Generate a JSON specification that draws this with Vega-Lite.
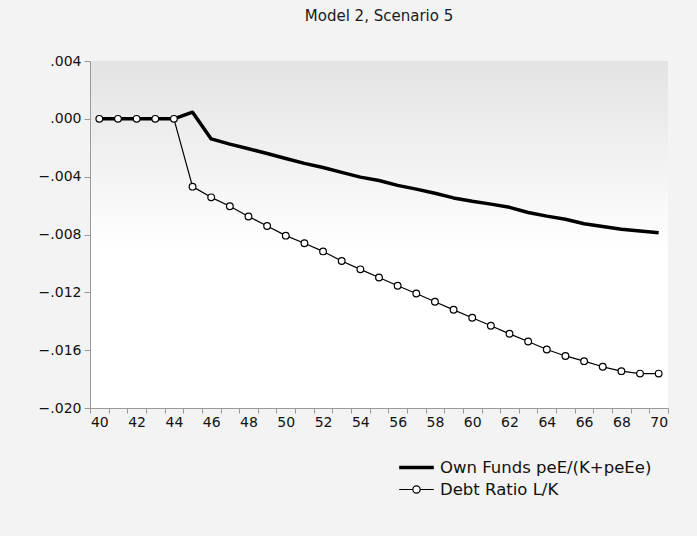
{
  "$schema": "https://vega.github.io/schema/vega-lite/v6.json",
  "width": 578,
  "height": 347,
  "autosize": {"type": "none"},
  "padding": {"left": 90, "top": 61, "right": 29, "bottom": 128},
  "background": "#f3f3f3",
  "title": {"text": "Model 2, Scenario 5", "font": "DejaVu Sans", "fontSize": 15, "fontWeight": "normal", "color": "#1a1a1a", "offset": 30},
  "config": {
    "font": "DejaVu Sans",
    "view": {"stroke": null, "fill": {"gradient": "linear", "x1": 0, "y1": 0, "x2": 0, "y2": 1, "stops": [{"offset": 0, "color": "#e3e3e3"}, {"offset": 0.55, "color": "#ffffff"}, {"offset": 1, "color": "#ffffff"}]}}
  },
  "data": {"values": [
    {"t": 40, "s": "Own Funds peE/(K+peEe)", "v": 0},
    {"t": 41, "s": "Own Funds peE/(K+peEe)", "v": 0},
    {"t": 42, "s": "Own Funds peE/(K+peEe)", "v": 0},
    {"t": 43, "s": "Own Funds peE/(K+peEe)", "v": 0},
    {"t": 44, "s": "Own Funds peE/(K+peEe)", "v": 0},
    {"t": 45, "s": "Own Funds peE/(K+peEe)", "v": 0.00046},
    {"t": 46, "s": "Own Funds peE/(K+peEe)", "v": -0.00139},
    {"t": 47, "s": "Own Funds peE/(K+peEe)", "v": -0.00175},
    {"t": 48, "s": "Own Funds peE/(K+peEe)", "v": -0.00207},
    {"t": 49, "s": "Own Funds peE/(K+peEe)", "v": -0.0024},
    {"t": 50, "s": "Own Funds peE/(K+peEe)", "v": -0.00274},
    {"t": 51, "s": "Own Funds peE/(K+peEe)", "v": -0.00308},
    {"t": 52, "s": "Own Funds peE/(K+peEe)", "v": -0.00337},
    {"t": 53, "s": "Own Funds peE/(K+peEe)", "v": -0.0037},
    {"t": 54, "s": "Own Funds peE/(K+peEe)", "v": -0.00403},
    {"t": 55, "s": "Own Funds peE/(K+peEe)", "v": -0.00427},
    {"t": 56, "s": "Own Funds peE/(K+peEe)", "v": -0.0046},
    {"t": 57, "s": "Own Funds peE/(K+peEe)", "v": -0.00486},
    {"t": 58, "s": "Own Funds peE/(K+peEe)", "v": -0.00515},
    {"t": 59, "s": "Own Funds peE/(K+peEe)", "v": -0.00547},
    {"t": 60, "s": "Own Funds peE/(K+peEe)", "v": -0.0057},
    {"t": 61, "s": "Own Funds peE/(K+peEe)", "v": -0.0059},
    {"t": 62, "s": "Own Funds peE/(K+peEe)", "v": -0.00612},
    {"t": 63, "s": "Own Funds peE/(K+peEe)", "v": -0.00648},
    {"t": 64, "s": "Own Funds peE/(K+peEe)", "v": -0.00673},
    {"t": 65, "s": "Own Funds peE/(K+peEe)", "v": -0.00695},
    {"t": 66, "s": "Own Funds peE/(K+peEe)", "v": -0.00726},
    {"t": 67, "s": "Own Funds peE/(K+peEe)", "v": -0.00745},
    {"t": 68, "s": "Own Funds peE/(K+peEe)", "v": -0.00763},
    {"t": 69, "s": "Own Funds peE/(K+peEe)", "v": -0.00775},
    {"t": 70, "s": "Own Funds peE/(K+peEe)", "v": -0.00788},
    {"t": 40, "s": "Debt Ratio L/K", "v": 0},
    {"t": 41, "s": "Debt Ratio L/K", "v": 0},
    {"t": 42, "s": "Debt Ratio L/K", "v": 0},
    {"t": 43, "s": "Debt Ratio L/K", "v": 0},
    {"t": 44, "s": "Debt Ratio L/K", "v": 0},
    {"t": 45, "s": "Debt Ratio L/K", "v": -0.00469},
    {"t": 46, "s": "Debt Ratio L/K", "v": -0.00543},
    {"t": 47, "s": "Debt Ratio L/K", "v": -0.00605},
    {"t": 48, "s": "Debt Ratio L/K", "v": -0.00675},
    {"t": 49, "s": "Debt Ratio L/K", "v": -0.00741},
    {"t": 50, "s": "Debt Ratio L/K", "v": -0.00808},
    {"t": 51, "s": "Debt Ratio L/K", "v": -0.00861},
    {"t": 52, "s": "Debt Ratio L/K", "v": -0.00917},
    {"t": 53, "s": "Debt Ratio L/K", "v": -0.00983},
    {"t": 54, "s": "Debt Ratio L/K", "v": -0.01041},
    {"t": 55, "s": "Debt Ratio L/K", "v": -0.01097},
    {"t": 56, "s": "Debt Ratio L/K", "v": -0.01154},
    {"t": 57, "s": "Debt Ratio L/K", "v": -0.01208},
    {"t": 58, "s": "Debt Ratio L/K", "v": -0.01265},
    {"t": 59, "s": "Debt Ratio L/K", "v": -0.01321},
    {"t": 60, "s": "Debt Ratio L/K", "v": -0.01376},
    {"t": 61, "s": "Debt Ratio L/K", "v": -0.01431},
    {"t": 62, "s": "Debt Ratio L/K", "v": -0.01487},
    {"t": 63, "s": "Debt Ratio L/K", "v": -0.0154},
    {"t": 64, "s": "Debt Ratio L/K", "v": -0.01595},
    {"t": 65, "s": "Debt Ratio L/K", "v": -0.0164},
    {"t": 66, "s": "Debt Ratio L/K", "v": -0.01676},
    {"t": 67, "s": "Debt Ratio L/K", "v": -0.01715},
    {"t": 68, "s": "Debt Ratio L/K", "v": -0.01745},
    {"t": 69, "s": "Debt Ratio L/K", "v": -0.01762},
    {"t": 70, "s": "Debt Ratio L/K", "v": -0.01762}
  ]},
  "encoding": {
    "x": {"field": "t", "type": "ordinal", "scale": {"type": "band", "paddingInner": 0, "paddingOuter": 0},
      "axis": {"title": null, "grid": false, "tickBand": "extent", "labelAngle": 0, "labelExpr": "datum.value % 2 === 0 ? datum.label : ''", "tickSize": 5, "labelPadding": 2, "labelFont": "DejaVu Sans", "labelFontSize": 14, "labelColor": "#111111", "domainColor": "#9a9a9a", "tickColor": "#9a9a9a"}},
    "y": {"field": "v", "type": "quantitative", "scale": {"domain": [-0.02, 0.004], "nice": false, "zero": false},
      "axis": {"title": null, "grid": false, "values": [-0.02, -0.016, -0.012, -0.008, -0.004, 0, 0.004], "labelExpr": "replace(format(datum.value, '.3f'), '0.', '.')", "tickSize": 6, "labelPadding": 3, "labelFont": "DejaVu Sans", "labelFontSize": 14, "labelColor": "#111111", "domainColor": "#9a9a9a", "tickColor": "#9a9a9a"}}
  },
  "layer": [
    {
      "mark": {"type": "line", "strokeJoin": "round"},
      "encoding": {
        "color": {"field": "s", "type": "nominal", "scale": {"domain": ["Own Funds peE/(K+peEe)", "Debt Ratio L/K"], "range": ["#000000", "#000000"]},
          "legend": {"orient": "none", "legendX": 316, "legendY": 396, "title": null, "padding": 0, "labelFont": "DejaVu Sans", "labelFontSize": 16.5, "labelLimit": 400, "labelColor": "#111111", "symbolSize": 300, "labelOffset": 13, "rowPadding": 4, "symbolType": "stroke",
            "encode": {"symbols": {"update": {
              "shape": {"signal": "datum.value === 'Debt Ratio L/K' ? 'M-2,0H-0.42M0.42,0H2M-0.42,0A0.42,0.42 0 1,0 0.42,0A0.42,0.42 0 1,0 -0.42,0Z' : 'M-2,0H2'"},
              "strokeWidth": {"signal": "datum.value === 'Debt Ratio L/K' ? 1.2 : 3"},
              "fill": {"value": "#ffffff"},
              "fillOpacity": {"value": 1},
              "stroke": {"value": "#000000"}
            }}}}},
        "strokeWidth": {"field": "s", "type": "nominal", "scale": {"domain": ["Own Funds peE/(K+peEe)", "Debt Ratio L/K"], "range": [3.5, 1.2]}, "legend": null}
      }
    },
    {
      "transform": [{"filter": "datum.s === 'Debt Ratio L/K'"}],
      "mark": {"type": "point", "shape": "circle", "filled": true, "fill": "#ffffff", "stroke": "#000000", "strokeWidth": 1.2, "size": 45, "opacity": 1},
      "encoding": {}
    }
  ]
}
